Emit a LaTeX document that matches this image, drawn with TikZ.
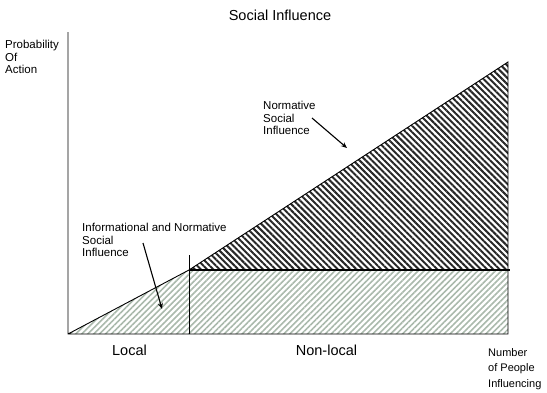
\documentclass[tikz,border=0pt]{standalone}
\usepackage{fontspec}
\setmainfont{Liberation Sans}
\usetikzlibrary{patterns.meta,arrows.meta}
\definecolor{lowstripe}{RGB}{170,185,172}
\definecolor{upstripe}{RGB}{40,40,40}
\tikzset{
  lbl/.style={anchor=north west, inner sep=0pt, font=\fontsize{11.5}{12.5}\selectfont, align=left},
  big/.style={inner sep=0pt, font=\fontsize{14.5}{16}\selectfont},
  axis/.style={line width=0.9pt},
  ptr/.style={line width=1.1pt, -{Stealth[length=6pt,width=5pt]}},
}
\begin{document}
\begin{tikzpicture}[x=1pt,y=-1pt]
\useasboundingbox (0,0) rectangle (547,392);
\coordinate (O) at (68,334);
\coordinate (Yt) at (68,32);
\coordinate (K) at (189,270);
\coordinate (Kt) at (189,255);
\coordinate (Kb) at (189,334);
\coordinate (A) at (508,62);
\coordinate (R) at (508,270);
\coordinate (Rx) at (510,270);
\coordinate (B) at (508,334);
% fills
\fill[pattern={Lines[angle=45,distance=4.2pt,line width=1.6pt]}, pattern color=lowstripe] (O) -- (K) -- (R) -- (B) -- cycle;
\fill[pattern={Lines[angle=-45,distance=4.4pt,line width=2pt]}, pattern color=upstripe] (K) -- (A) -- (R) -- cycle;
% lines
\draw[axis] (Yt) -- (O) -- (B) -- (A) -- (K) -- (O);
\draw[line width=1.6pt] (K) -- (Rx);
\draw[line width=0.8pt] (Kt) -- (Kb);
% texts
\node[big] (title) at (280,15) {Social Influence};
\node[lbl] (yl) at (5,40) {Probability\\Of\\Action};
\node[lbl] (nsi) at (263,101) {Normative\\Social\\Influence};
\node[lbl] (ins) at (82,223) {Informational and Normative\\Social\\Influence};
\node[lbl, font=\fontsize{11}{15.5}\selectfont] (xl) at (488,348) {Number\\of People\\Influencing};
\node[big] (loc) at (129.5,350) {Local};
\node[big] (nloc) at (326.5,350) {Non-local};
\coordinate (nsitip) at (347,148);
\coordinate (instip) at (162,309);
\draw[ptr] (312,118) -- (nsitip);
\draw[ptr] (143,243) -- (instip);
\end{tikzpicture}
\end{document}
